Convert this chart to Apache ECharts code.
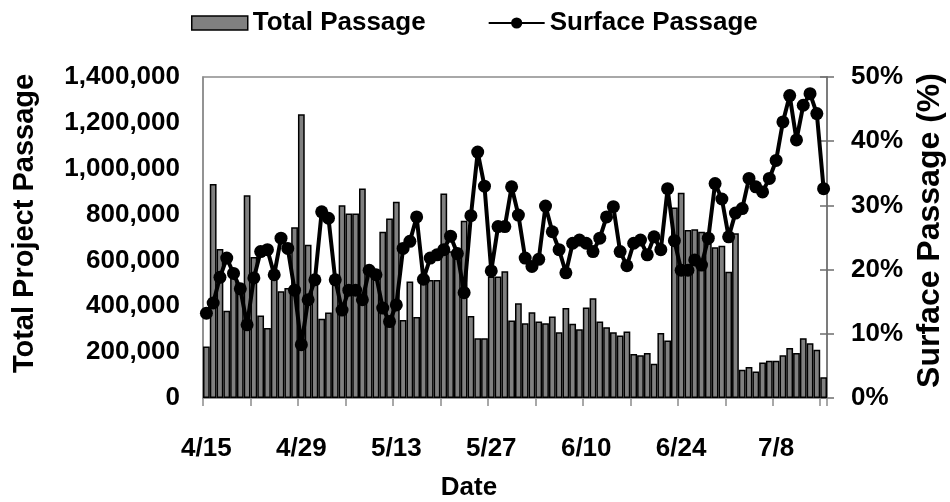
<!DOCTYPE html>
<html>
<head>
<meta charset="utf-8">
<script src="https://cdn.jsdelivr.net/npm/echarts/dist/echarts.min.js"></script>
<style>
html,body{margin:0;padding:0;background:#fff;}
#chart{width:950px;height:502px;}
</style>
</head>
<body>
<div id="chart"></div>
<script>
const dates = [
 '4/15','4/16','4/17','4/18','4/19','4/20','4/21','4/22','4/23','4/24','4/25','4/26','4/27','4/28','4/29','4/30',
 '5/1','5/2','5/3','5/4','5/5','5/6','5/7','5/8','5/9','5/10','5/11','5/12','5/13','5/14','5/15','5/16','5/17','5/18','5/19','5/20','5/21','5/22','5/23','5/24','5/25','5/26','5/27','5/28','5/29','5/30','5/31',
 '6/1','6/2','6/3','6/4','6/5','6/6','6/7','6/8','6/9','6/10','6/11','6/12','6/13','6/14','6/15','6/16','6/17','6/18','6/19','6/20','6/21','6/22','6/23','6/24','6/25','6/26','6/27','6/28','6/29','6/30',
 '7/1','7/2','7/3','7/4','7/5','7/6','7/7','7/8','7/9','7/10','7/11','7/12','7/13','7/14','7/15'
];

const totalPassage = [
 225000, 933000, 650000, 380000, 540000, 490000, 884000, 615000, 360000, 305000,
 530000, 466000, 480000, 745000, 1238000, 668000, 510000, 346000, 373000, 500000,
 841000, 805000, 805000, 914000, 570000, 545000, 725000, 783000, 856000, 340000,
 508000, 353000, 522000, 515000, 515000, 892000, 640000, 610000, 773000, 358000,
 261000, 261000, 530000, 530000, 553000, 338000, 413000, 326000, 374000, 334000,
 326000, 355000, 287000, 392000, 324000, 300000, 395000, 435000, 334000, 309000,
 287000, 273000, 290000, 192000, 186000, 196000, 149000, 283000, 251000, 831000,
 895000, 733000, 736000, 725000, 675000, 657000, 664000, 551000, 718000, 123000,
 135000, 116000, 155000, 162000, 162000, 186000, 218000, 196000, 261000, 239000,
 210000, 91000
];

const surfacePassage = [
 13.2, 14.8, 18.8, 21.8, 19.4, 17.0, 11.4, 18.7, 22.8, 23.1,
 19.2, 24.9, 23.3, 16.8, 8.3, 15.3, 18.4, 29.0, 28.0, 18.4,
 13.7, 16.8, 16.8, 15.3, 19.9, 19.2, 14.0, 11.9, 14.5, 23.3,
 24.4, 28.2, 18.5, 21.8, 22.3, 23.1, 25.2, 22.5, 16.4, 28.4,
 38.3, 33.0, 19.8, 26.7, 26.7, 32.9, 28.5, 21.8, 20.5, 21.6,
 29.9, 25.9, 23.1, 19.5, 24.1, 24.6, 24.1, 22.8, 24.9, 28.2,
 29.8, 22.8, 20.6, 24.1, 24.6, 22.3, 25.1, 23.1, 32.6, 24.5,
 19.9, 19.9, 21.5, 20.7, 24.9, 33.4, 31.0, 25.1, 28.8, 29.5,
 34.2, 32.9, 32.1, 34.2, 37.0, 43.0, 47.1, 40.2, 45.6, 47.4,
 44.3, 32.6
];

const leftTicks = { min: 0, max: 1400000, interval: 200000 };
const rightTicks = { min: 0, max: 50, interval: 10 };

const FONT = '"Liberation Sans", Arial, sans-serif';
const chart = echarts.init(document.getElementById('chart'), null, { renderer: 'canvas' });

chart.setOption({
  animation: false,
  backgroundColor: '#ffffff',
  textStyle: { fontFamily: FONT, fontWeight: 'bold', color: '#000' },
  legend: {
    top: 5,
    left: 186,
    itemGap: 62,
    itemWidth: 56,
    itemHeight: 14,
    textStyle: { fontFamily: FONT, fontSize: 26, fontWeight: 'bold', color: '#000' },
    data: [
      { name: 'Total Passage', icon: 'rect', itemStyle: { color: '#808080', borderColor: '#000', borderWidth: 1.5 } },
      { name: 'Surface Passage' }
    ]
  },
  grid: {
    left: 203, right: 123, top: 77, bottom: 104,
    containLabel: false,
    outerBoundsMode: 'none',
    show: true, borderColor: '#8c8c8c', borderWidth: 1.5, backgroundColor: 'transparent'
  },
  xAxis: {
    type: 'category',
    data: dates,
    boundaryGap: true,
    name: 'Date',
    nameLocation: 'middle',
    nameGap: 77,
    nameMoveOverlap: false,
    nameTextStyle: { fontFamily: FONT, fontSize: 26, fontWeight: 'bold', color: '#000', padding: [0, 92, 0, 0] },
    axisLine: { show: true, lineStyle: { color: '#8c8c8c', width: 1.5 } },
    axisTick: { show: true, interval: 6, length: 8, lineStyle: { color: '#8c8c8c', width: 1.5 } },
    axisLabel: { interval: 13, margin: 38, fontFamily: FONT, fontSize: 26, fontWeight: 'bold', color: '#000' },
    splitLine: { show: false }
  },
  yAxis: [
    {
      type: 'value',
      position: 'left',
      min: leftTicks.min, max: leftTicks.max, interval: leftTicks.interval,
      name: 'Total Project Passage',
      nameLocation: 'middle',
      nameRotate: 90,
      nameGap: 164,
      nameMoveOverlap: false,
      nameTextStyle: { fontFamily: FONT, fontSize: 29, fontWeight: 'bold', color: '#000', padding: [0, 0, 0, 28] },
      axisLine: { show: true, lineStyle: { color: '#8c8c8c', width: 1.5 } },
      axisTick: { show: false },
      splitLine: { show: false },
      axisLabel: {
        margin: 23, fontFamily: FONT, fontSize: 26, fontWeight: 'bold', color: '#000',
        formatter: v => v.toLocaleString('en-US')
      }
    },
    {
      type: 'value',
      position: 'right',
      min: rightTicks.min, max: rightTicks.max, interval: rightTicks.interval,
      name: 'Surface Passage (%)',
      nameLocation: 'middle',
      nameRotate: 90,
      nameGap: 87,
      nameMoveOverlap: false,
      nameTextStyle: { fontFamily: FONT, fontSize: 32, fontWeight: 'bold', color: '#000', padding: [0, 0, 0, 14] },
      axisLine: { show: true, lineStyle: { color: '#6e6e6e', width: 1.5 } },
      axisTick: { show: true, inside: false, length: 7, lineStyle: { color: '#6e6e6e', width: 1.5 } },
      splitLine: { show: false },
      axisLabel: {
        margin: 24, fontFamily: FONT, fontSize: 26, fontWeight: 'bold', color: '#000',
        formatter: '{value}%'
      }
    },
    {
      type: 'value',
      position: 'right',
      min: rightTicks.min, max: rightTicks.max, interval: rightTicks.interval,
      axisLine: { show: false },
      axisTick: { show: true, inside: true, length: 7, lineStyle: { color: '#6e6e6e', width: 1.5 } },
      axisLabel: { show: false },
      splitLine: { show: false }
    }
  ],
  series: [
    {
      name: 'Total Passage',
      type: 'bar',
      yAxisIndex: 0,
      data: totalPassage,
      barCategoryGap: '0%',
      itemStyle: { color: '#808080', borderColor: '#000', borderWidth: 1.5 },
      z: 1
    },
    {
      name: 'Surface Passage',
      type: 'line',
      yAxisIndex: 1,
      data: surfacePassage,
      symbol: 'circle',
      symbolSize: 13,
      showSymbol: true,
      showAllSymbol: true,
      lineStyle: { color: '#000', width: 4 },
      itemStyle: { color: '#000' },
      z: 3
    }
  ]
});
</script>
</body>
</html>
